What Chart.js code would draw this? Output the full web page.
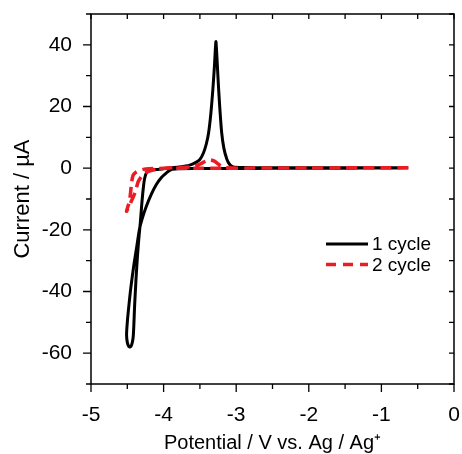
<!DOCTYPE html>
<html>
<head>
<meta charset="utf-8">
<script src="https://cdn.jsdelivr.net/npm/chart.js@4.4.1/dist/chart.umd.min.js"></script>
<style>
  html, body { margin: 0; padding: 0; background: #fff; }
  #wrap { width: 462px; height: 454px; }
</style>
</head>
<body>
<div id="wrap"><canvas id="c" width="462" height="454"></canvas></div>
<script>
// ---- data ----
const cycle1Label = "1 cycle";
const cycle1V = [-0.63, -1.0, -1.5, -2.0, -2.5, -3.0, -3.3, -3.6, -3.8, -3.9, -3.96, -4.03, -4.10, -4.17, -4.24, -4.29, -4.33, -4.37, -4.41, -4.45, -4.48, -4.50, -4.51, -4.50, -4.48, -4.46, -4.44, -4.42, -4.41, -4.40, -4.38, -4.36, -4.34, -4.32, -4.30, -4.28, -4.26, -4.23, -4.18, -4.1, -4.0, -3.9, -3.78, -3.64, -3.56, -3.50, -3.45, -3.41, -3.38, -3.35, -3.32, -3.30, -3.28, -3.27, -3.25, -3.23, -3.20, -3.17, -3.13, -3.09, -3.04, -2.9, -2.5, -2.0, -1.5, -1.0, -0.63];
const cycle1I = [0.1, 0.05, 0.0, 0.0, -0.05, -0.1, -0.1, -0.1, -0.2, -0.5, -1.5, -3.0, -5.3, -8.5, -12.5, -16.0, -19.5, -25.5, -31.5, -38.5, -45, -50, -54, -56.5, -57.8, -58.0, -57.3, -55, -51, -45, -36, -28.5, -22.5, -17.5, -11.5, -6.5, -3.2, -1.3, -0.6, -0.4, -0.2, 0.1, 0.4, 1.0, 1.8, 2.8, 5.0, 8.0, 11.5, 17.5, 26, 33, 41, 38, 29, 21, 11.5, 6.5, 3.0, 1.2, 0.4, 0.2, 0.1, 0.1, 0.1, 0.1, 0.1];

const cycle2Label = "2 cycle";
const cycle2V = [-0.63, -1.0, -1.5, -2.0, -2.5, -3.0, -3.5, -3.9, -4.1, -4.2, -4.28, -4.34, -4.38, -4.42, -4.44, -4.46, -4.48, -4.51, -4.45, -4.39, -4.35, -4.30, -4.24, -4.16, -4.05, -3.9, -3.7, -3.6, -3.5, -3.42, -3.36, -3.30, -3.25, -3.20, -3.12, -3.0];
const cycle2I = [0.15, 0.1, 0.1, 0.05, 0.05, 0.0, 0.0, 0.0, -0.1, -0.2, -0.4, -0.8, -1.3, -2.3, -4.5, -9.0, -11.5, -14.0, -11.0, -7.7, -4.4, -2.6, -1.4, -0.7, -0.2, 0.1, 0.3, 0.5, 1.3, 2.3, 2.7, 2.3, 1.4, 0.5, 0.1, 0.05];

const xTicks = [-5, -4, -3, -2, -1, 0];
const xMinorTicks = [-4.5, -3.5, -2.5, -1.5, -0.5];
const yTicks = [-60, -40, -20, 0, 20, 40];
const yMinorTicks = [-70, -50, -30, -10, 10, 30, 50];
const xMin = -5, xMax = 0, yMin = -70, yMax = 50;
const xTitle = "Potential / V vs. Ag / Ag\u207A";
const yTitle = "Current / \u00B5A";

// ---- chart ----
const FONT = "Arial, 'Liberation Sans', Helvetica, sans-serif";
const RED = "#ec1c24";

function toPoints(xs, ys) { return xs.map((x, i) => ({ x: x, y: ys[i] })); }

function noOverhang(s) { s.paddingTop = 0; s.paddingBottom = 0; s.paddingLeft = 0; s.paddingRight = 0; }

const framePlugin = {
  id: 'frame',
  afterDraw(chart) {
    const { ctx, chartArea: a, scales: { x, y } } = chart;
    ctx.save();
    ctx.strokeStyle = '#000';
    ctx.lineWidth = 1.5;
    ctx.strokeRect(a.left, a.top, a.right - a.left, a.bottom - a.top);
    ctx.lineWidth = 1.3;
    ctx.beginPath();
    const majL = 8, minL = 5, inL = 5;
    xTicks.forEach(v => { const p = x.getPixelForValue(v); ctx.moveTo(p, a.bottom); ctx.lineTo(p, a.bottom + majL); ctx.moveTo(p, a.top); ctx.lineTo(p, a.top + inL); });
    xMinorTicks.forEach(v => { const p = x.getPixelForValue(v); ctx.moveTo(p, a.bottom); ctx.lineTo(p, a.bottom + minL); ctx.moveTo(p, a.top); ctx.lineTo(p, a.top + inL); });
    yTicks.forEach(v => { const p = y.getPixelForValue(v); ctx.moveTo(a.left, p); ctx.lineTo(a.left - majL, p); ctx.moveTo(a.right, p); ctx.lineTo(a.right - inL, p); });
    yMinorTicks.forEach(v => { const p = y.getPixelForValue(v); ctx.moveTo(a.left, p); ctx.lineTo(a.left - minL, p); ctx.moveTo(a.right, p); ctx.lineTo(a.right - inL, p); });
    ctx.stroke();
    ctx.restore();
  }
};

const legendPlugin = {
  id: 'insideLegend',
  afterDraw(chart, args, opts) {
    const { ctx } = chart;
    ctx.save();
    const list = chart.data.datasets;
    list.forEach((ds, i) => {
      const yy = opts.y + i * opts.rowGap;
      ctx.beginPath();
      ctx.strokeStyle = ds.borderColor;
      ctx.lineWidth = ds.borderWidth;
      ctx.setLineDash(ds.legendDash || ds.borderDash || []);
      ctx.moveTo(opts.x, yy);
      ctx.lineTo(opts.x + opts.lineLen, yy);
      ctx.stroke();
      ctx.setLineDash([]);
      ctx.fillStyle = '#000';
      ctx.font = opts.fontSize + 'px ' + FONT;
      ctx.textBaseline = 'middle';
      ctx.textAlign = 'left';
      ctx.fillText(ds.label, opts.x + opts.lineLen + opts.gap, yy + 1);
    });
    ctx.restore();
  }
};

new Chart(document.getElementById('c'), {
  type: 'scatter',
  data: {
    datasets: [
      { label: cycle1Label, data: toPoints(cycle1V, cycle1I), showLine: true, borderColor: '#000', borderWidth: 3, pointRadius: 0, tension: 0.25, fill: false, order: 2 },
      { label: cycle2Label, data: toPoints(cycle2V, cycle2I), showLine: true, borderColor: RED, borderWidth: 3.5, borderDash: [11, 6], legendDash: [10, 7], pointRadius: 0, tension: 0.25, fill: false, order: 1 }
    ]
  },
  options: {
    responsive: false,
    devicePixelRatio: 1,
    animation: false,
    events: [],
    layout: { padding: { left: 0, right: 8, top: 14, bottom: 0 } },
    plugins: {
      legend: { display: false },
      tooltip: { enabled: false },
      insideLegend: { x: 326, y: 244, rowGap: 20.5, lineLen: 42, gap: 4, fontSize: 19 }
    },
    scales: {
      x: {
        type: 'linear', position: 'bottom', min: xMin, max: xMax,
        afterBuildTicks: s => { s.ticks = xTicks.map(v => ({ value: v })); },
        afterFit: s => { s.height = 70; noOverhang(s); },
        grid: { display: false }, border: { display: false },
        ticks: { color: '#000', font: { family: FONT, size: 21, lineHeight: 1.2 }, padding: 11, maxRotation: 0, autoSkip: false, callback: v => (v === 0 ? '0' : String(v)) },
        title: { display: true, text: xTitle, color: '#000', font: { family: FONT, size: 20, lineHeight: 1 }, padding: { top: 0, bottom: 1 } }
      },
      y: {
        type: 'linear', position: 'left', min: yMin, max: yMax,
        afterBuildTicks: s => { s.ticks = yTicks.map(v => ({ value: v })); },
        afterFit: s => { s.width = 91; noOverhang(s); },
        grid: { display: false }, border: { display: false },
        ticks: { color: '#000', font: { family: FONT, size: 21, lineHeight: 1.2 }, padding: 11, autoSkip: false, callback: v => (v === 0 ? '0' : String(v)) },
        title: { display: true, text: yTitle, color: '#000', font: { family: FONT, size: 22, lineHeight: 1 }, padding: { top: 12, bottom: 0 } }
      }
    }
  },
  plugins: [framePlugin, legendPlugin]
});
</script>
</body>
</html>
